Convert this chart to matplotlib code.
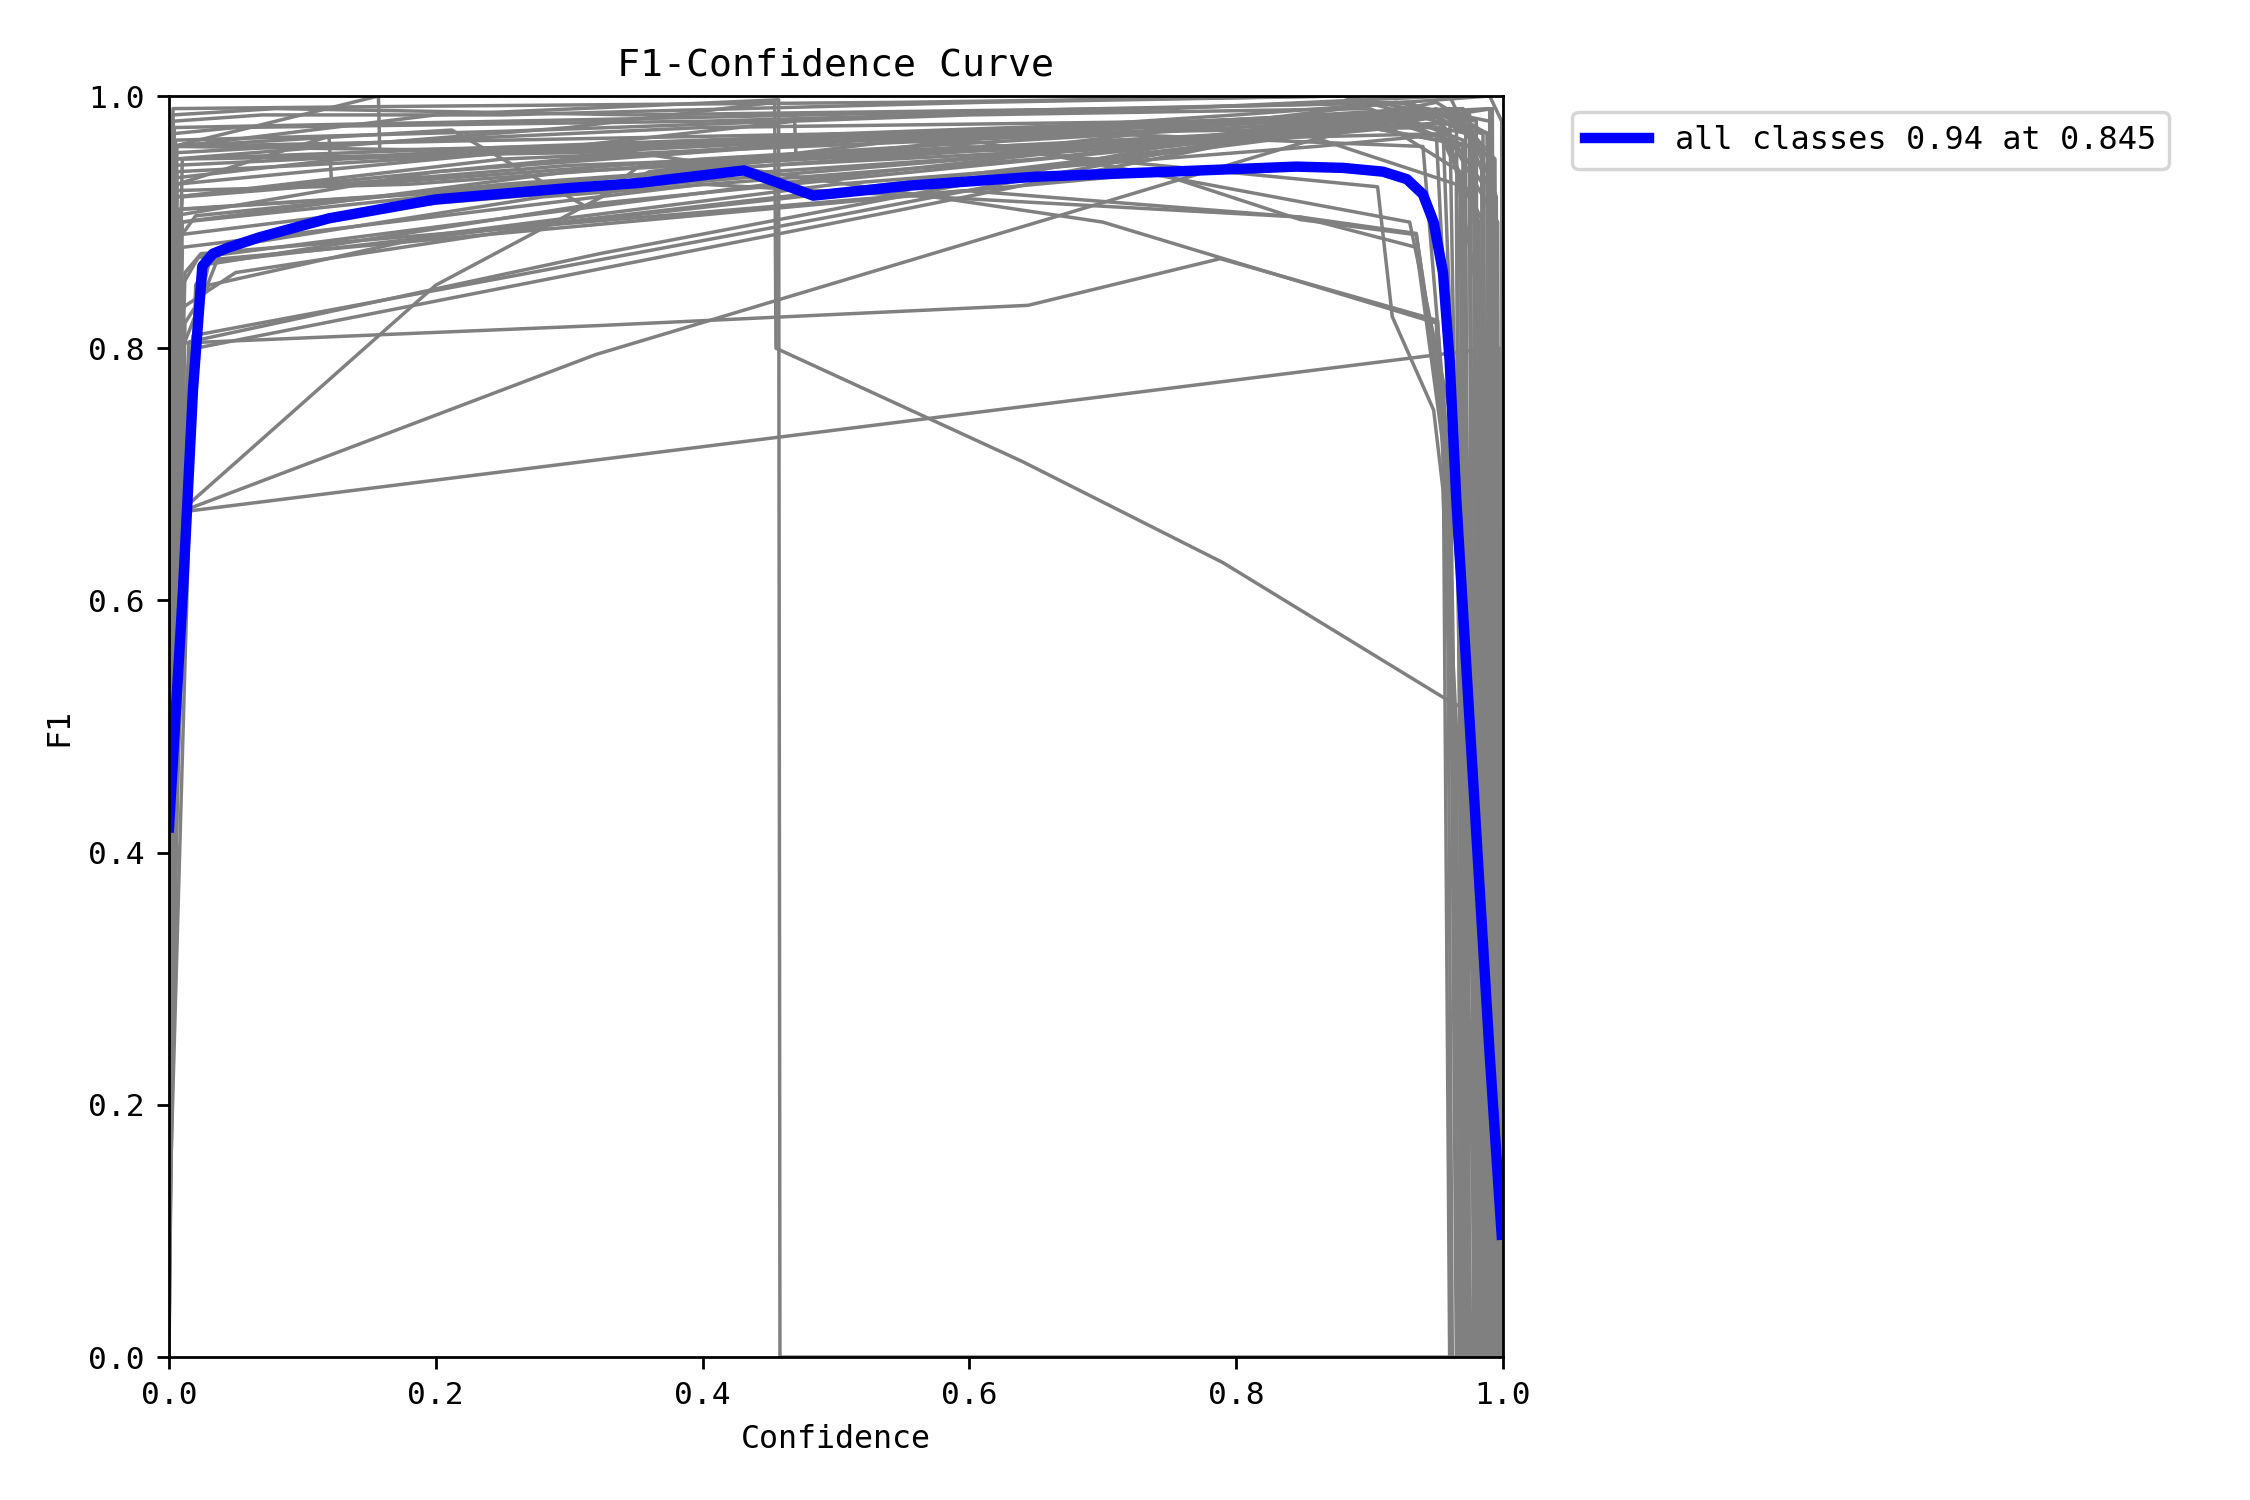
import matplotlib
matplotlib.use('Agg')
import matplotlib.pyplot as plt

# mean F1 over all classes
mean_conf = [0.0, 0.0105, 0.018, 0.025, 0.033, 0.045, 0.068, 0.12, 0.2, 0.3, 0.352,
             0.431, 0.483, 0.556, 0.65, 0.75, 0.845, 0.88, 0.91, 0.928, 0.94,
             0.948, 0.955, 0.96, 0.965, 0.98, 0.99, 0.999]
mean_f1 = [0.42, 0.608, 0.767, 0.865, 0.875, 0.88, 0.888, 0.903, 0.918, 0.927, 0.931,
           0.941, 0.921, 0.929, 0.936, 0.94, 0.944, 0.943, 0.94, 0.934, 0.922,
           0.9, 0.86, 0.79, 0.68, 0.415, 0.24, 0.097]

# per-class F1 curves (grey)
class_conf = [
    [0.0, 0.003, 0.008, 0.99, 0.997, 0.998],
    [0.0, 0.004, 0.008, 0.32, 0.85, 0.95, 0.985, 0.99],
    [0.0, 0.008, 0.2, 0.36, 0.55, 0.9, 0.975, 0.979],
    [0.0, 0.008, 0.323, 0.644, 0.788, 0.848, 0.951, 0.962, 0.966],
    [0.0, 0.006, 0.015, 0.323, 0.87, 0.965, 0.972],
    [0.0, 0.01, 0.018, 0.5, 0.92, 0.975, 0.98],
    [0.0, 0.012, 0.02, 0.55, 0.95, 0.988, 0.991],
    [0.0, 0.015, 0.026, 0.323, 0.75, 0.95, 0.985, 0.988],
    [0.0, 0.02, 0.03, 0.5, 0.85, 0.96, 0.976],
    [0.0, 0.01, 0.022, 0.45, 0.92, 0.97, 0.982],
    [0.0, 0.02, 0.03, 0.6, 0.741, 0.848, 0.935, 0.955, 0.96],
    [0.0, 0.012, 0.024, 0.597, 0.848, 0.935, 0.958, 0.962],
    [0.0, 0.004, 0.35, 0.7, 0.93, 0.975, 0.978],
    [0.0, 0.005, 0.25, 0.6, 0.9, 0.97, 0.974],
    [0.0, 0.003, 0.157, 0.158, 0.5, 0.85, 0.96, 0.985, 0.988],
    [0.0, 0.006, 0.12, 0.122, 0.4, 0.8, 0.95, 0.982, 0.986],
    [0.0, 0.004, 0.3, 0.7, 0.94, 0.99, 0.993],
    [0.0, 0.008, 0.45, 0.8, 0.96, 0.994, 0.996],
    [0.0, 0.003, 0.2, 0.55, 0.88, 0.98, 0.982],
    [0.0, 0.01, 0.3, 0.6, 0.95, 0.985, 0.99],
    [0.0, 0.005, 0.18, 0.5, 0.85, 0.965, 0.97],
    [0.0, 0.004, 0.2, 0.52, 0.9, 0.975, 0.98],
    [0.0, 0.004, 0.3, 0.454, 0.455, 0.64, 0.79, 0.96, 0.99, 0.992],
    [0.0, 0.006, 0.2, 0.457, 0.458, 0.965],
    [0.0, 0.005, 0.3, 0.469, 0.47, 0.8, 0.96, 0.99, 0.993],
    [0.0, 0.004, 0.5, 0.906, 0.917, 0.948, 0.955, 0.968, 0.97],
    [0.0, 0.01, 0.4, 0.848, 0.935, 0.96, 0.965],
    [0.0, 0.005, 0.35, 0.7, 0.95, 0.965, 0.968],
    [0.0, 0.01, 0.6, 0.93, 0.96, 0.97],
    [0.0, 0.005, 0.212, 0.313, 0.352, 0.9, 0.975, 0.978],
    [0.0, 0.001, 0.004, 0.01, 0.3, 0.7, 0.97, 0.984, 0.987],
    [0.0, 0.003, 0.02, 0.25, 0.65, 0.92, 0.99, 0.995],
    [0.0, 0.002, 0.05, 0.4, 0.75, 0.96, 0.978, 0.981],
    [0.0, 0.006, 0.1, 0.5, 0.9, 0.99, 0.994],
    [0.0, 0.004, 0.15, 0.45, 0.82, 0.97, 0.988, 0.99],
    [0.0, 0.003, 0.08, 0.35, 0.72, 0.93, 0.972, 0.975],
    [0.0, 0.007, 0.05, 0.3, 0.6, 0.9, 0.978, 0.983],
    [0.0, 0.01, 0.04, 0.28, 0.65, 0.95, 0.996, 0.998],
    [0.0, 0.005, 0.09, 0.4, 0.77, 0.97, 0.995, 0.997],
    [0.0, 0.004, 0.13, 0.36, 0.7, 0.9, 0.968, 0.972],
    [0.0, 0.003, 0.07, 0.25, 0.61, 0.88, 0.985, 0.989],
    [0.0, 0.012, 0.03, 0.2, 0.5, 0.86, 0.96, 0.98, 0.985],
    [0.0, 0.005, 0.3, 0.8, 0.99, 0.999, 1.0],
    [0.0, 0.008, 0.2, 0.6, 0.93, 0.992, 0.995],
    [0.0, 0.006, 0.25, 0.7, 0.94, 0.968, 0.98],
    [0.0, 0.009, 0.3, 0.75, 0.95, 0.972, 0.984],
    [0.0, 0.004, 0.4, 0.8, 0.955, 0.975, 0.988],
]
class_f1 = [
    [0.0, 0.45, 0.67, 0.80, 0.80, 0.0],
    [0.0, 0.5, 0.67, 0.795, 0.963, 0.99, 0.96, 0.0],
    [0.1, 0.67, 0.85, 0.94, 0.965, 0.985, 0.96, 0.0],
    [0.25, 0.804, 0.818, 0.834, 0.871, 0.853, 0.822, 0.6, 0.0],
    [0.0, 0.6, 0.805, 0.875, 0.985, 0.99, 0.0],
    [0.15, 0.7, 0.81, 0.905, 0.99, 0.985, 0.0],
    [0.3, 0.76, 0.80, 0.91, 0.995, 0.97, 0.0],
    [0.2, 0.78, 0.866, 0.915, 0.96, 0.985, 0.93, 0.0],
    [0.3, 0.82, 0.868, 0.925, 0.97, 0.99, 0.0],
    [0.5, 0.85, 0.872, 0.93, 0.985, 0.965, 0.0],
    [0.1, 0.85, 0.87, 0.925, 0.939, 0.902, 0.89, 0.75, 0.0],
    [0.35, 0.86, 0.875, 0.925, 0.904, 0.88, 0.7, 0.0],
    [0.55, 0.975, 0.982, 0.99, 0.995, 0.97, 0.0],
    [0.6, 0.965, 0.972, 0.985, 0.99, 0.96, 0.0],
    [0.7, 0.96, 1.0, 0.957, 0.965, 0.98, 0.99, 0.95, 0.0],
    [0.5, 0.93, 0.968, 0.928, 0.95, 0.975, 0.985, 0.9, 0.0],
    [0.65, 0.945, 0.96, 0.975, 0.99, 0.97, 0.0],
    [0.3, 0.91, 0.94, 0.965, 0.99, 0.95, 0.0],
    [0.8, 0.99, 0.992, 0.995, 1.0, 0.98, 0.0],
    [0.45, 0.95, 0.955, 0.97, 0.975, 0.9, 0.0],
    [0.72, 0.925, 0.93, 0.955, 0.97, 0.93, 0.0],
    [0.4, 0.905, 0.94, 0.965, 0.985, 0.97, 0.0],
    [0.6, 0.95, 0.975, 0.995, 0.80, 0.71, 0.63, 0.52, 0.504, 0.0],
    [0.5, 0.96, 0.985, 0.997, 0.0, 0.0],
    [0.4, 0.93, 0.96, 0.98, 0.952, 0.97, 0.985, 0.95, 0.0],
    [0.7, 0.96, 0.97, 0.928, 0.825, 0.751, 0.688, 0.3, 0.0],
    [0.3, 0.88, 0.93, 0.904, 0.891, 0.7, 0.0],
    [0.5, 0.96, 0.955, 0.9, 0.82, 0.5, 0.0],
    [0.2, 0.9, 0.965, 0.9, 0.75, 0.0],
    [0.85, 0.96, 0.973, 0.912, 0.944, 0.975, 0.96, 0.0],
    [0.0, 0.35, 0.8, 0.92, 0.945, 0.96, 0.98, 0.95, 0.0],
    [0.2, 0.88, 0.905, 0.93, 0.96, 0.995, 0.98, 0.0],
    [0.6, 0.97, 0.975, 0.98, 0.99, 1.0, 0.96, 0.0],
    [0.5, 0.94, 0.945, 0.97, 0.985, 0.99, 0.0],
    [0.35, 0.91, 0.92, 0.945, 0.965, 0.98, 0.93, 0.0],
    [0.55, 0.985, 0.99, 0.985, 0.99, 0.995, 0.97, 0.0],
    [0.25, 0.83, 0.86, 0.9, 0.935, 0.975, 0.96, 0.0],
    [0.1, 0.8, 0.88, 0.92, 0.95, 0.985, 0.9, 0.0],
    [0.4, 0.955, 0.96, 0.975, 0.98, 0.99, 0.92, 0.0],
    [0.3, 0.935, 0.95, 0.96, 0.97, 0.985, 0.94, 0.0],
    [0.75, 0.98, 0.985, 0.985, 0.995, 1.0, 0.97, 0.0],
    [0.05, 0.82, 0.85, 0.89, 0.93, 0.96, 0.97, 0.85, 0.0],
    [0.45, 0.92, 0.95, 0.985, 1.0, 0.98, 0.0],
    [0.3, 0.89, 0.915, 0.95, 0.98, 0.99, 0.0],
    [0.4, 0.92, 0.95, 0.97, 0.96, 0.6, 0.0],
    [0.3, 0.9, 0.94, 0.965, 0.97, 0.5, 0.0],
    [0.55, 0.95, 0.965, 0.98, 0.975, 0.4, 0.0],
]

plt.rcParams['font.family'] = ['DejaVu Sans Mono']
plt.rcParams['font.size'] = 9

fig, ax = plt.subplots(figsize=(9, 6), dpi=250)
fig.subplots_adjust(left=0.0751, right=0.668, bottom=0.0953, top=0.936)

for cx, cy in zip(class_conf, class_f1):
    ax.plot(cx, cy, linewidth=1, color='grey')

best = mean_f1.index(max(mean_f1))
ax.plot(mean_conf, mean_f1, linewidth=3, color='blue',
        label='all classes %.2f at %.3f' % (mean_f1[best], mean_conf[best]))

ax.set_xlabel('Confidence', fontsize=9.1)
ax.set_ylabel('F1', fontsize=9.1)
ax.set_xlim(0, 1)
ax.set_ylim(0, 1)
ax.tick_params(labelsize=9)
ax.legend(bbox_to_anchor=(1.04, 1), loc='upper left', fontsize=9.2)
ax.set_title('F1-Confidence Curve', fontsize=11)

fig.savefig('out.png', dpi=250)
